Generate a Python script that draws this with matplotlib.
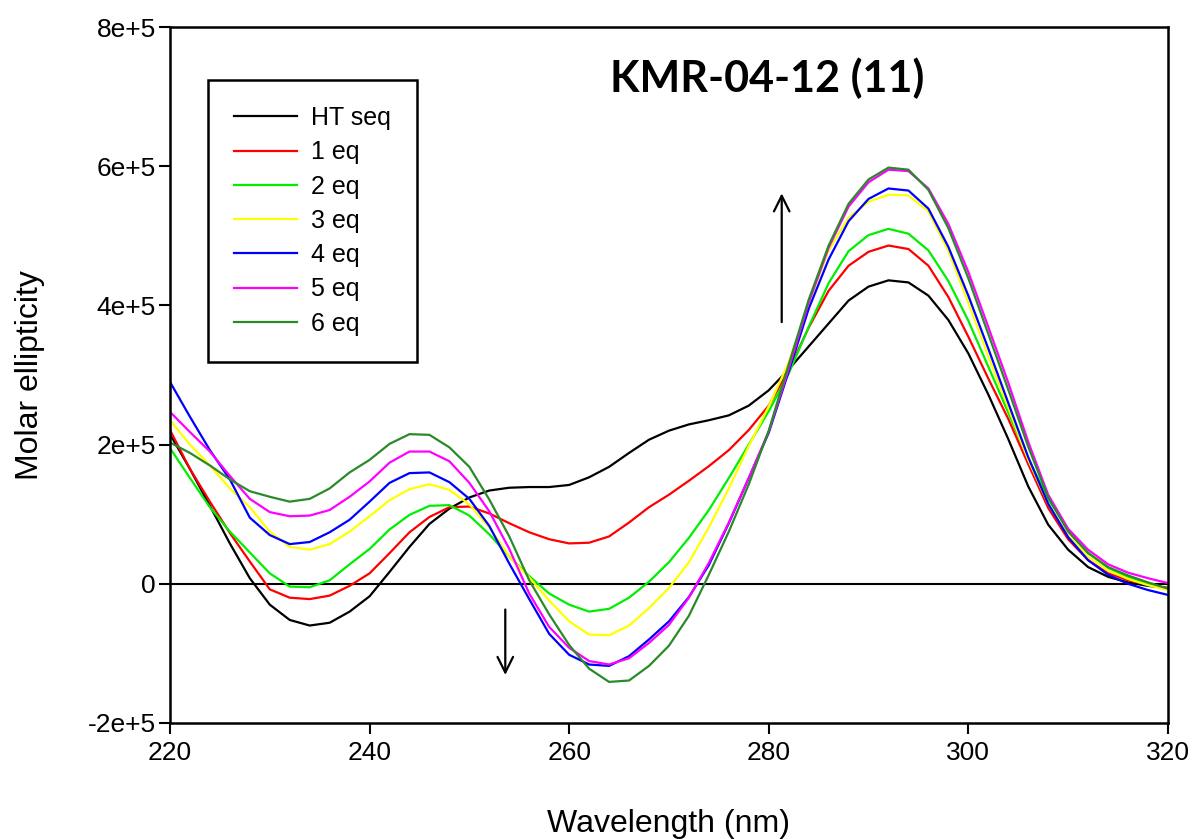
import numpy as np
import matplotlib
matplotlib.use('Agg')
import matplotlib.pyplot as plt

plt.rcParams['font.family'] = ['Liberation Sans', 'DejaVu Sans']

# wavelength grid (nm), every 2 nm
wl = list(range(220, 322, 2))

# molar ellipticity, in units of 1e3
ht_seq = [215, 165, 112, 58, 8, -30, -52, -60, -56, -40,
          -18, 17, 53, 86, 108, 124, 134, 138, 139, 139,
          142, 153, 168, 188, 207, 220, 229, 235, 242, 256,
          278, 308, 341, 374, 407, 427, 436, 433, 414, 379,
          331, 272, 208, 140, 85, 49, 24, 10, 2, -3, -6]
eq1 = [221, 165, 118, 73, 32, -8, -20, -22, -17, -3,
       15, 44, 74, 96, 110, 111, 101, 87, 74, 64,
       58, 59, 68, 88, 110, 128, 148, 169, 192, 221,
       256, 307, 368, 421, 457, 477, 486, 481, 457, 412,
       355, 295, 237, 172, 109, 64, 34, 15, 5, -1, -6]
eq2 = [195, 152, 110, 75, 45, 15, -4, -5, 5, 28,
       50, 78, 99, 112, 113, 98, 71, 39, 11, -14,
       -30, -40, -36, -20, 3, 31, 66, 106, 152, 200,
       248, 302, 369, 432, 478, 501, 510, 503, 479, 435,
       378, 312, 246, 180, 122, 78, 45, 23, 10, 0, -7]
eq3 = [235, 200, 170, 137, 110, 75, 53, 49, 57, 75,
       97, 120, 136, 143, 135, 114, 81, 39, 9, -24,
       -54, -73, -74, -60, -35, -6, 31, 81, 137, 198,
       255, 318, 402, 479, 526, 549, 559, 558, 535, 478,
       404, 327, 253, 178, 115, 69, 39, 19, 7, -2, -9]
eq4 = [290, 240, 192, 150, 95, 70, 57, 60, 74, 92,
       118, 145, 159, 160, 146, 122, 83, 29, -22, -72,
       -102, -116, -118, -104, -80, -54, -19, 27, 87, 152,
       217, 305, 395, 466, 521, 553, 568, 565, 539, 484,
       414, 338, 260, 182, 115, 67, 34, 13, 0, -9, -16]
eq5 = [247, 218, 190, 155, 122, 103, 97, 98, 106, 125,
       147, 174, 190, 190, 176, 145, 104, 50, -14, -62,
       -92, -111, -116, -107, -85, -59, -20, 30, 88, 152,
       219, 309, 404, 483, 542, 577, 595, 593, 568, 517,
       448, 369, 289, 204, 128, 79, 49, 28, 16, 8, 1]
eq6 = [203, 188, 170, 150, 133, 125, 118, 122, 137, 160,
       178, 201, 215, 214, 196, 168, 121, 68, 5, -44,
       -88, -122, -141, -139, -118, -89, -46, 13, 75, 143,
       220, 315, 408, 486, 546, 581, 598, 595, 566, 511,
       439, 359, 279, 197, 124, 75, 44, 24, 12, 2, -7]

labels = ['HT seq', '1 eq', '2 eq', '3 eq', '4 eq', '5 eq', '6 eq']
colors = ['#000000', '#ff0000', '#00ee00', '#ffff00', '#0000ff', '#ff00ff', '#2a8a2a']
series = [ht_seq, eq1, eq2, eq3, eq4, eq5, eq6]

yticks = [-2e5, 0, 2e5, 4e5, 6e5, 8e5]
ytick_labels = ['-2e+5', '0', '2e+5', '4e+5', '6e+5', '8e+5']
xticks = [220, 240, 260, 280, 300, 320]

fig = plt.figure(figsize=(11.92, 8.39), dpi=100)
ax = fig.add_axes([0.1426, 0.1383, 0.8372, 0.8295])

ax.axhline(0, color='black', lw=1.5, zorder=1)
for s, lab, c in zip(series, labels, colors):
	ax.plot(wl, np.array(s) * 1e3, color=c, lw=1.6, label=lab, zorder=2)

ax.set_xlim(220, 320)
ax.set_ylim(-2e5, 8e5)
ax.set_xticks(xticks)
ax.set_xticklabels([str(t) for t in xticks])
ax.set_yticks(yticks)
ax.set_yticklabels(ytick_labels)
ax.tick_params(direction='out', length=8, width=1.5, labelsize=19, pad=5)
ax.tick_params(axis='y', pad=2)
for sp in ax.spines.values():
	sp.set_linewidth(1.8)

ax.set_xlabel('Wavelength (nm)', fontsize=23)
ax.set_ylabel('Molar ellipticity', fontsize=23)
ax.xaxis.set_label_coords(0.5, -0.123)
ax.yaxis.set_label_coords(-0.125, 0.5)

leg = ax.legend(loc='upper left', bbox_to_anchor=(0.038, 0.924), borderaxespad=0,
	fontsize=18, handlelength=2.5, handletextpad=0.56, labelspacing=0.41,
	borderpad=1.05, fancybox=False, framealpha=1)
leg.get_frame().set_edgecolor('black')
leg.get_frame().set_linewidth(1.8)

ax.text(0.598, 0.927, 'KMR-04-12 (11)', transform=ax.transAxes, ha='center', va='center',
	fontsize=31, fontweight='bold', family=['Lato', 'DejaVu Sans'])

ax.annotate('', xy=(281.3, 5.65e5), xytext=(281.3, 3.72e5),
	arrowprops=dict(arrowstyle='->', lw=1.6, color='black', mutation_scale=28))
ax.annotate('', xy=(253.6, -1.35e5), xytext=(253.6, -0.33e5),
	arrowprops=dict(arrowstyle='->', lw=1.6, color='black', mutation_scale=28))

fig.savefig('out.png', dpi=100)
